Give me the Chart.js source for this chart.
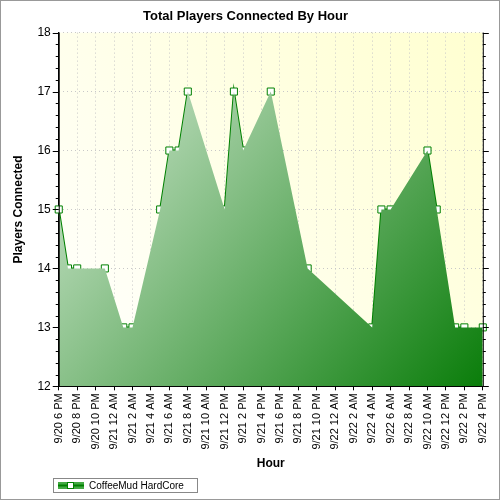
<!DOCTYPE html>
<html><head><script src="https://cdn.jsdelivr.net/npm/chart.js@4"></script>
<style>body{margin:0;background:#fff}#w{width:498px;height:498px;border:1px solid #999}</style></head>
<body><div id="w"><canvas id="c" width="498" height="498"></canvas></div>
<script>
const hours = [0,1,2,5,7,8,11,12,13,14,18,19,20,23,27,34,35,36,40,41,43,44,46];
const players = [15,14,14,14,13,13,15,16,16,17,15,17,16,17,14,13,15,15,16,15,13,13,13];
const tickLabels = ['9/20 6 PM','9/20 8 PM','9/20 10 PM','9/21 12 AM','9/21 2 AM','9/21 4 AM','9/21 6 AM','9/21 8 AM','9/21 10 AM','9/21 12 PM','9/21 2 PM','9/21 4 PM','9/21 6 PM','9/21 8 PM','9/21 10 PM','9/22 12 AM','9/22 2 AM','9/22 4 AM','9/22 6 AM','9/22 8 AM','9/22 10 AM','9/22 12 PM','9/22 2 PM','9/22 4 PM'];
const seriesName = 'CoffeeMud HardCore';

const pts = hours.map((h,i)=>({x:h,y:players[i]}));
const linePts = [];
for(let i=0;i<pts.length;i++){ if(i>0 && hours[i]-hours[i-1]>1) linePts.push({x:(hours[i]+hours[i-1])/2,y:null}); linePts.push(pts[i]); }

const bgPlugin = {id:'bg', beforeDraw(ch){const a=ch.chartArea,c=ch.ctx;const g=c.createLinearGradient(a.left,a.bottom,a.right,a.top);g.addColorStop(0,'#ffffff');g.addColorStop(1,'#ffffd0');c.save();c.fillStyle=g;c.fillRect(a.left,a.top,a.right-a.left,a.bottom-a.top);c.restore();},
 afterDraw(ch){const a=ch.chartArea,c=ch.ctx,y=ch.scales.y;c.save();c.strokeStyle='#000';c.lineWidth=1;
  for(let v=12;v<=18.001;v+=0.2){const py=Math.round(y.getPixelForValue(v))+0.5;const major=Math.abs(v-Math.round(v))<0.01;c.beginPath();c.moveTo(a.left-(major?6:3),py);c.lineTo(a.left,py);c.moveTo(a.right,py);c.lineTo(a.right+(major?6:3),py);c.stroke();}
  c.beginPath();c.moveTo(a.left+0.5,a.top);c.lineTo(a.left+0.5,a.bottom);c.moveTo(a.right+0.5,a.top);c.lineTo(a.right+0.5,a.bottom);c.stroke();
  // legend
  c.strokeStyle='#888';c.strokeRect(52.5,477.5,144,14);
  c.fillStyle='#4a4';c.fillRect(57,481,26,7);c.strokeStyle='#008000';c.lineWidth=2;c.beginPath();c.moveTo(57,484.5);c.lineTo(83,484.5);c.stroke();
  c.lineWidth=1;c.fillStyle='#fff';c.fillRect(66.5,481.5,6,6);c.strokeRect(66.5,481.5,6,6);
  c.fillStyle='#000';c.font='10px "Liberation Sans"';c.textBaseline='middle';c.fillText(seriesName,88,485);
  c.restore();}};

new Chart(document.getElementById('c'),{type:'line',
 data:{datasets:[
  {label:'area',data:pts,fill:'start',borderWidth:0,pointRadius:0,
   backgroundColor:(ctx)=>{const a=ctx.chart.chartArea;if(!a)return '#8c8';const g=ctx.chart.ctx.createLinearGradient(a.left,a.top,a.right,a.bottom);g.addColorStop(0,'#e2f0e2');g.addColorStop(1,'#0a7d0a');return g;}},
  {label:seriesName,data:linePts,borderColor:'#008000',borderWidth:2,spanGaps:false,fill:false,clip:false,
   pointStyle:'rect',pointRadius:5,pointBackgroundColor:'#fff',pointBorderColor:'#008000',pointBorderWidth:1}
 ]},
 options:{responsive:false,animation:false,
  layout:{padding:{left:6,right:15,top:0,bottom:24}},
  plugins:{title:{display:true,text:'Total Players Connected By Hour',font:{family:'Liberation Sans',size:13,weight:'bold'},color:'#000',padding:{top:8,bottom:8}},
   legend:{display:false},tooltip:{enabled:false}},
  scales:{
   x:{type:'linear',min:0,max:46,afterBuildTicks:s=>{s.ticks=tickLabels.map((t,i)=>({value:i*2}));},
    ticks:{autoSkip:false,maxRotation:90,minRotation:90,font:{family:'Liberation Sans',size:11},color:'#000',callback:(v)=>tickLabels[v/2]},
    grid:{color:'#c8c8c8',drawTicks:true,tickLength:4,tickColor:'#000'},border:{color:'#000',dash:[1,3]},
    title:{display:true,text:'Hour',font:{family:'Liberation Sans',size:12,weight:'bold'},color:'#000'}},
   y:{min:12,max:18,ticks:{stepSize:1,font:{family:'Liberation Sans',size:12},color:'#000',padding:8},
    grid:{color:'#c8c8c8',drawTicks:false},border:{color:'#000',dash:[1,3]},
    title:{display:true,text:'Players Connected',font:{family:'Liberation Sans',size:12,weight:'bold'},color:'#000'}}
  }},plugins:[bgPlugin]});
</script></body></html>
